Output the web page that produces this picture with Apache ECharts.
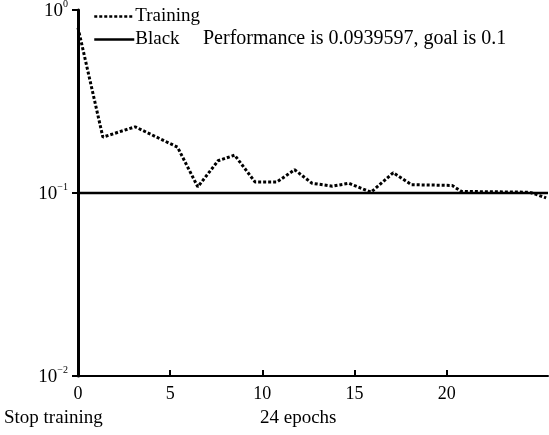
<!DOCTYPE html>
<html>
<head>
<meta charset="utf-8">
<script src="https://cdn.jsdelivr.net/npm/echarts@6/dist/echarts.min.js"></script>
<style>
  html, body { margin: 0; padding: 0; background: #fff; }
  #main { width: 549px; height: 435px; }
</style>
</head>
<body>
<div id="main"></div>
<script>
// epoch positions and performance
var epochs = [0, 1.35, 3.1, 5.4, 6.5, 7.6, 8.5, 9.6, 10.8, 11.75, 12.7, 13.8, 14.7, 15.9, 17.1, 18.1, 20.3, 20.8, 24.5, 25.4];
var perf = [0.8, 0.202, 0.23, 0.178, 0.108, 0.15, 0.161, 0.115, 0.115, 0.134, 0.113, 0.109, 0.113, 0.101, 0.129, 0.111, 0.11, 0.102, 0.101, 0.094];
// goal line
var goalX = [0, 25.5];
var goalY = [0.1, 0.1];
var xTicks = [0, 5, 10, 15, 20];

var FONT = 'Liberation Serif';

function pairs(xs, ys) {
    let out = [];
    for (let i = 0; i < xs.length; i++) {
        out.push([xs[i], ys[i]]);
    }
    return out;
}

var chart = echarts.init(document.getElementById('main'));
var option = {
    animation: false,
    backgroundColor: '#fff',
    textStyle: { fontFamily: FONT, color: '#000' },
    grid: { left: 78, right: 1, top: 10, bottom: 59, outerBoundsMode: 'none' },
    legend: {
        data: ['Training', 'Black'],
        orient: 'vertical',
        left: 88,
        top: 2,
        itemWidth: 40,
        itemHeight: 12,
        itemGap: 4,
        itemStyle: { opacity: 0 },
        lineStyle: { width: 2.5 },
        textStyle: { fontFamily: FONT, fontSize: 19, color: '#000', padding: [0, 0, 0, -4] }
    },
    title: {
        text: 'Performance is 0.0939597, goal is 0.1',
        left: 203,
        top: 29,
        padding: 0,
        textStyle: { fontFamily: FONT, fontSize: 20, fontWeight: 'normal', color: '#000' }
    },
    xAxis: {
        type: 'value',
        min: 0,
        max: 25.5,
        interval: 5,
        splitLine: { show: false },
        axisLine: { lineStyle: { color: '#000', width: 2 } },
        axisTick: { inside: true, length: 6, customValues: xTicks, lineStyle: { color: '#000', width: 2 } },
        axisLabel: { customValues: xTicks, margin: 9, fontFamily: FONT, fontSize: 18, color: '#000' }
    },
    yAxis: {
        type: 'log',
        logBase: 10,
        min: 0.01,
        max: 1,
        splitLine: { show: false },
        axisLine: { lineStyle: { color: '#000', width: 3 } },
        axisTick: { length: 6, lineStyle: { color: '#000', width: 2 } },
        axisLabel: {
            margin: 10,
            formatter: function (v) {
                let p = Math.round(Math.log10(v));
                return '{b|10}{s|' + (p < 0 ? '\u2212' + (-p) : p) + '}';
            },
            rich: {
                b: { fontFamily: FONT, fontSize: 19, color: '#000', lineHeight: 22, verticalAlign: 'bottom' },
                s: { fontFamily: FONT, fontSize: 10, color: '#000', lineHeight: 22, verticalAlign: 'top' }
            }
        }
    },
    graphic: [
        { type: 'text', left: 4, top: 409, style: { text: 'Stop training', font: '19px "Liberation Serif"', fill: '#000' } },
        { type: 'text', left: 260, top: 409, style: { text: '24 epochs', font: '19px "Liberation Serif"', fill: '#000' } }
    ],
    series: [
        {
            name: 'Training',
            type: 'line',
            symbol: 'none',
            data: pairs(epochs, perf),
            lineStyle: { color: '#000', width: 3, type: [3, 2] },
            itemStyle: { color: '#000' },
            z: 3
        },
        {
            name: 'Black',
            type: 'line',
            symbol: 'none',
            data: pairs(goalX, goalY),
            lineStyle: { color: '#000', width: 2.5, type: 'solid' },
            itemStyle: { color: '#000' },
            z: 2
        }
    ]
};
chart.setOption(option);
</script>
</body>
</html>
